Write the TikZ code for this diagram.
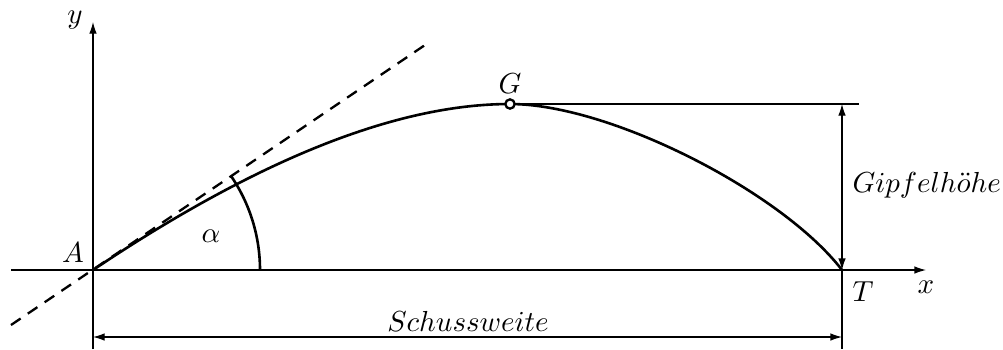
\documentclass[tikz,border=0pt]{standalone}
\usetikzlibrary{arrows.meta}
\begin{document}
\begin{tikzpicture}[x=0.345pt,y=-0.345pt,
  axis/.style={line width=0.4pt,-{Latex[length=4pt,width=2.6pt]}},
  thinline/.style={line width=0.4pt},
  dimline/.style={line width=0.4pt,{Latex[length=4pt,width=2.6pt]}-{Latex[length=4pt,width=2.6pt]}},
  curve/.style={line width=0.9pt},
  tangent/.style={line width=0.8pt,dashed,dash pattern=on 4pt off 3pt},
  lbl/.style={inner sep=0pt}]
\useasboundingbox (0,0) rectangle (1003,349);
% key points
\coordinate (A) at (93,270);
\coordinate (G) at (510,104);
\coordinate (T) at (842,270);
\coordinate (xs) at (11,270);
\coordinate (xe) at (926,270);
\coordinate (ys) at (93,349);
\coordinate (ye) at (93,22);
\coordinate (ts) at (11,325);
\coordinate (te) at (425,45);
\coordinate (gh) at (859,104);
\coordinate (tb) at (842,349);
\coordinate (sA) at (93,337);
\coordinate (sT) at (842,337);
\coordinate (arc0) at (260,270);
% axes
\draw[axis] (xs) -- (xe);
\draw[axis] (ys) -- (ye);
% tangent
\draw[tangent] (ts) -- (te);
% trajectory
\draw[curve] (A) .. controls (258,159.3) and (397,104) .. (G)
  .. controls (610,104) and (782,192) .. (T);
% angle arc
\draw[curve] (arc0) arc[start angle=0,end angle=-34,radius=167];
% helper lines
\draw[thinline] (G) -- (gh);
\draw[thinline] (T) -- (tb);
\draw[dimline] (842,104) -- (T);
\draw[dimline] (sA) -- (sT);
% G marker
\node[circle,draw,fill=white,line width=0.8pt,minimum size=3.2pt,inner sep=0pt] (Gm) at (G) {};
% labels
\node[lbl] (lA) at (73,253) {$A$};
\node[lbl] (lG) at (510,84) {$G$};
\node[lbl] (lT) at (863,292) {$T$};
\node[lbl] (lx) at (926,287) {$x$};
\node[lbl] (ly) at (75,20) {$y$};
\node[lbl] (la) at (211,236) {$\alpha$};
\node[lbl,anchor=west] (lgh) at (852,185) {$Gipfelh\ddot{o}he$};
\node[lbl] (lsw) at (468,321) {$Schussweite$};
\end{tikzpicture}
\end{document}
